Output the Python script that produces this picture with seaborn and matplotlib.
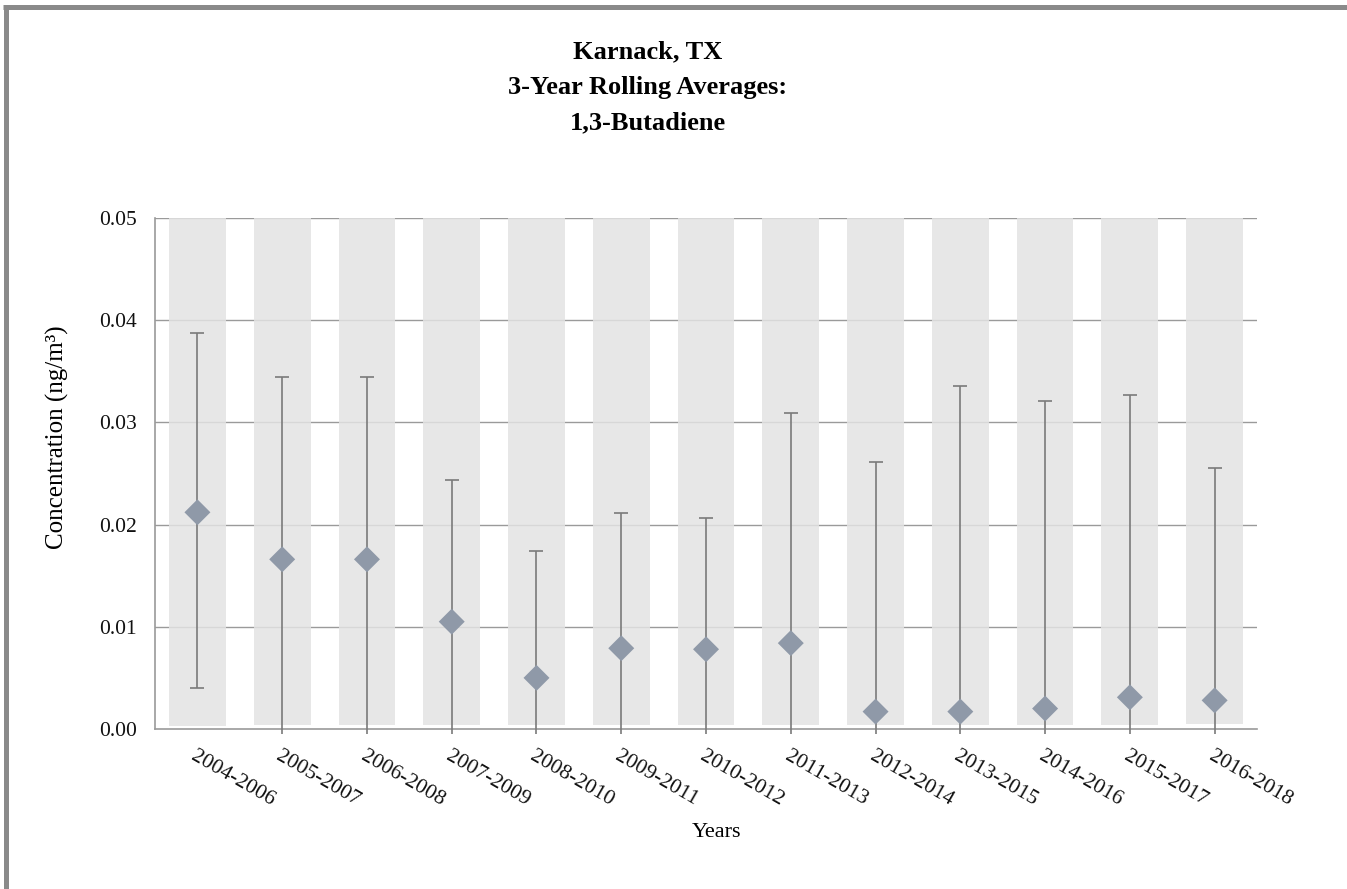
import numpy as np
import pandas as pd
import matplotlib
matplotlib.use("Agg")
import matplotlib.pyplot as plt
import seaborn as sns
from matplotlib.lines import Line2D

# ---- data ----
periods = ["2004-2006", "2005-2007", "2006-2008", "2007-2009", "2008-2010",
           "2009-2011", "2010-2012", "2011-2013", "2012-2014", "2013-2015",
           "2014-2016", "2015-2017", "2016-2018"]
mean_conc = [0.0212, 0.0166, 0.0166, 0.0105, 0.0050, 0.0079, 0.0078,
             0.0084, 0.0017, 0.0017, 0.0020, 0.0031, 0.0028]
upper_ci = [0.0387, 0.0344, 0.0344, 0.0244, 0.0174, 0.0211, 0.0206,
            0.0309, 0.0261, 0.0336, 0.0321, 0.0327, 0.0255]
lower_ci = [0.0040, 0.0, 0.0, 0.0, 0.0, 0.0, 0.0,
            0.0, 0.0, 0.0, 0.0, 0.0, 0.0]
band_low = [0.0003, 0.0004, 0.0004, 0.0004, 0.0004, 0.0004, 0.0004,
            0.0004, 0.0004, 0.0004, 0.0004, 0.0004, 0.0005]
band_high = [0.05] * 13
yticks = [0.00, 0.01, 0.02, 0.03, 0.04, 0.05]

df = pd.DataFrame({"period": periods, "mean": mean_conc, "upper": upper_ci,
                   "lower": lower_ci, "blow": band_low, "bhigh": band_high})
df["x"] = np.arange(len(df))

sns.set_style("white")
plt.rcParams["font.family"] = ["Liberation Serif", "DejaVu Serif"]
plt.rcParams["text.color"] = "black"

fig = plt.figure(figsize=(13.47, 8.89), dpi=100)
ax = fig.add_axes([0.1151, 0.18, 0.9332 - 0.1151, 0.7548 - 0.18])

grid_c = "#9a9a9a"
for t in yticks[1:]:
    ax.axhline(t, color=grid_c, lw=1.0, zorder=1)

ax.bar(df["x"], df["bhigh"] - df["blow"], bottom=df["blow"], width=0.67,
       color="#e3e3e3", alpha=0.85, zorder=2, linewidth=0)

# error stems (extend slightly below axis where lower is 0)
stem_low = np.where(df["lower"] > 0, df["lower"], -0.00045)
ax.vlines(df["x"], stem_low, df["upper"], color="#7a7a7a", lw=1.2,
          zorder=3, clip_on=False)
ax.scatter(df["x"], df["upper"], marker="_", s=110, color="#7a7a7a",
           linewidths=1.2, zorder=3)
sel = df[df["lower"] > 0]
ax.scatter(sel["x"], sel["lower"], marker="_", s=110, color="#7a7a7a",
           linewidths=1.2, zorder=3)

sns.scatterplot(data=df, x="x", y="mean", marker="D", s=175,
                color="#8f99a8", edgecolor="none", ax=ax, zorder=4)

ax.set_xlim(-0.5, len(df) - 0.5)
ax.set_ylim(0, 0.05)
ax.set_yticks(yticks)
ax.set_yticklabels([f"{v:.2f}" for v in yticks], fontsize=15.5,
                   color="#111111")
ax.set_xticks(df["x"])
ax.set_xticklabels(df["period"], rotation=-30, ha="left", va="top",
                   rotation_mode="anchor", fontsize=15.5, color="#111111")
ax.set_xticks(np.arange(-0.5, len(df)), minor=True)
ax.tick_params(axis="x", which="major", length=0, pad=13)
ax.tick_params(axis="x", which="minor", length=6, color="#9a9a9a", width=1)
ax.tick_params(axis="y", length=7, color="#9a9a9a", width=1, pad=6)

for s in ["top", "right"]:
    ax.spines[s].set_visible(False)
for s in ["left", "bottom"]:
    ax.spines[s].set_color("#9a9a9a")
    ax.spines[s].set_linewidth(1.2)
ax.set_xlabel("")
ax.set_ylabel("")

fig.text(0.043, 0.508, "Concentration (ng/m³)", rotation=90,
         ha="center", va="center", fontsize=18)
fig.text(0.532, 0.064, "Years", ha="center", va="center", fontsize=16)

fig.text(0.481, 0.942, "Karnack, TX", ha="center", va="center",
         fontsize=19, fontweight="bold")
fig.text(0.481, 0.902, "3-Year Rolling Averages:", ha="center", va="center",
         fontsize=19, fontweight="bold")
fig.text(0.481, 0.862, "1,3-Butadiene", ha="center", va="center",
         fontsize=19, fontweight="bold")

# outer frame (left and top)
bc = "#8a8a8a"
fig.add_artist(Line2D([0.0041, 0.0041], [0, 0.9944], color=bc, lw=3.6,
                      transform=fig.transFigure, solid_capstyle="butt"))
fig.add_artist(Line2D([0.0022, 1.0], [0.9916, 0.9916], color=bc, lw=3.6,
                      transform=fig.transFigure, solid_capstyle="butt"))

fig.savefig("out.png", dpi=100)
